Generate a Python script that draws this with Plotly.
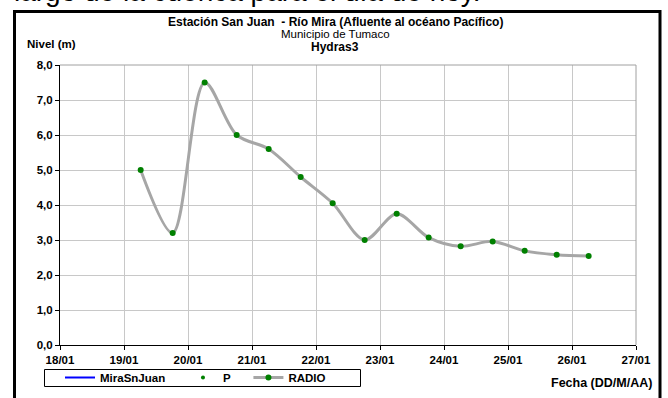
import plotly.graph_objects as go

# ---- data ----
times = [
    "2012-01-19 06:15", "2012-01-19 18:15", "2012-01-20 06:15", "2012-01-20 18:15",
    "2012-01-21 06:15", "2012-01-21 18:15", "2012-01-22 06:15", "2012-01-22 18:15",
    "2012-01-23 06:15", "2012-01-23 18:15", "2012-01-24 06:15", "2012-01-24 18:15",
    "2012-01-25 06:15", "2012-01-25 18:15", "2012-01-26 06:15",
]
radio = [5.0, 3.2, 7.5, 6.0, 5.6, 4.8, 4.05, 3.0, 3.75, 3.07, 2.82, 2.96, 2.69, 2.58, 2.54]
y_ticks = [0, 1, 2, 3, 4, 5, 6, 7, 8]
y_tick_labels = ["0,0", "1,0", "2,0", "3,0", "4,0", "5,0", "6,0", "7,0", "8,0"]
x_ticks = ["2012-01-%02d" % d for d in range(18, 28)]
x_tick_labels = ["%02d/01" % d for d in range(18, 28)]

W, H = 668, 398
L, R, T, B = 60, 636, 65, 345


def px(x):
    return (x - L) / (R - L)


def py(y):
    return (B - y) / (B - T)


FONT = "Liberation Sans, Arial, sans-serif"
PAD = "\u00a0" * 4

fig = go.Figure()
fig.add_trace(go.Scatter(x=[None], y=[None], mode="lines", name="MiraSnJuan" + PAD,
                         line=dict(color="#0000ff", width=2)))
fig.add_trace(go.Scatter(x=[None], y=[None], mode="markers", name="P" + PAD,
                         marker=dict(color="#008000", size=4)))
fig.add_trace(go.Scatter(x=times, y=radio, mode="lines+markers", name="RADIO",
                         line=dict(color="#a6a6a6", width=3, shape="spline", smoothing=0.9),
                         marker=dict(color="#008000", size=6)))

fig.update_layout(
    width=W, height=H,
    margin=dict(l=L, r=W - R, t=T, b=H - B, autoexpand=False),
    paper_bgcolor="white", plot_bgcolor="white",
    font=dict(family=FONT, size=10, color="black"),
    showlegend=True,
    legend=dict(orientation="h", x=px(60), y=py(363), xanchor="left", yanchor="top",
                borderwidth=0, bgcolor="rgba(0,0,0,0)",
                font=dict(family=FONT, size=11.5, color="black", weight="bold"),
                tracegroupgap=0, itemwidth=30),
)

fig.update_xaxes(
    type="date", range=["2012-01-18", "2012-01-27"],
    tickmode="array", tickvals=x_ticks, ticktext=x_tick_labels,
    showgrid=True, gridcolor="#c8c8c8", gridwidth=1,
    showline=True, linecolor="black", linewidth=1, mirror=False,
    ticks="outside", ticklen=4, tickcolor="black",
    tickfont=dict(family=FONT, size=11.5, color="black", weight="bold"),
    zeroline=False,
)
fig.update_yaxes(
    range=[0, 8], tickmode="array", tickvals=y_ticks, ticktext=y_tick_labels,
    showgrid=True, gridcolor="#c8c8c8", gridwidth=1,
    showline=True, linecolor="black", linewidth=1,
    ticks="outside", ticklen=4, tickcolor="black",
    tickfont=dict(family=FONT, size=11.5, color="black", weight="bold"),
    zeroline=False,
)

shapes = [
    # plot area top/right border (gray)
    dict(type="line", xref="paper", yref="paper", x0=0, x1=1, y0=1, y1=1,
         line=dict(color="#a0a0a0", width=1)),
    dict(type="line", xref="paper", yref="paper", x0=1, x1=1, y0=0, y1=1,
         line=dict(color="#a0a0a0", width=1)),
    # outer black frame
    dict(type="rect", xref="paper", yref="paper", x0=px(14.5), x1=px(660), y0=py(400), y1=py(11.5),
         line=dict(color="black", width=3)),
    # legend box
    dict(type="rect", xref="paper", yref="paper", x0=px(44.5), x1=px(360.5), y0=py(386.5), y1=py(369.5),
         line=dict(color="black", width=1)),
]
fig.update_layout(shapes=shapes)

ann = [
    dict(text="largo de la cuenca para el día de hoy.", x=px(12), y=py(-9), xanchor="left",
         yanchor="middle", font=dict(family=FONT, size=28, color="black")),
    dict(text="<b>Estación San Juan  - Río Mira (Afluente al océano Pacífico)</b>", x=px(335), y=py(22),
         xanchor="center", yanchor="middle", font=dict(family=FONT, size=12)),
    dict(text="Municipio de Tumaco", x=px(335), y=py(34.5),
         xanchor="center", yanchor="middle", font=dict(family=FONT, size=11.5)),
    dict(text="<b>Hydras3</b>", x=px(335), y=py(47),
         xanchor="center", yanchor="middle", font=dict(family=FONT, size=12)),
    dict(text="<b>Nivel (m)</b>", x=px(25), y=py(44),
         xanchor="left", yanchor="middle", font=dict(family=FONT, size=11.5)),
    dict(text="<b>Fecha (DD/M/AA)</b>", x=px(654), y=py(383),
         xanchor="right", yanchor="middle", font=dict(family=FONT, size=12.5)),
]
for a in ann:
    a.update(xref="paper", yref="paper", showarrow=False)
fig.update_layout(annotations=ann)

fig.write_html("out.html", config={"displayModeBar": False},
               post_script="document.body.style.margin='0';document.body.style.overflow='hidden';")
